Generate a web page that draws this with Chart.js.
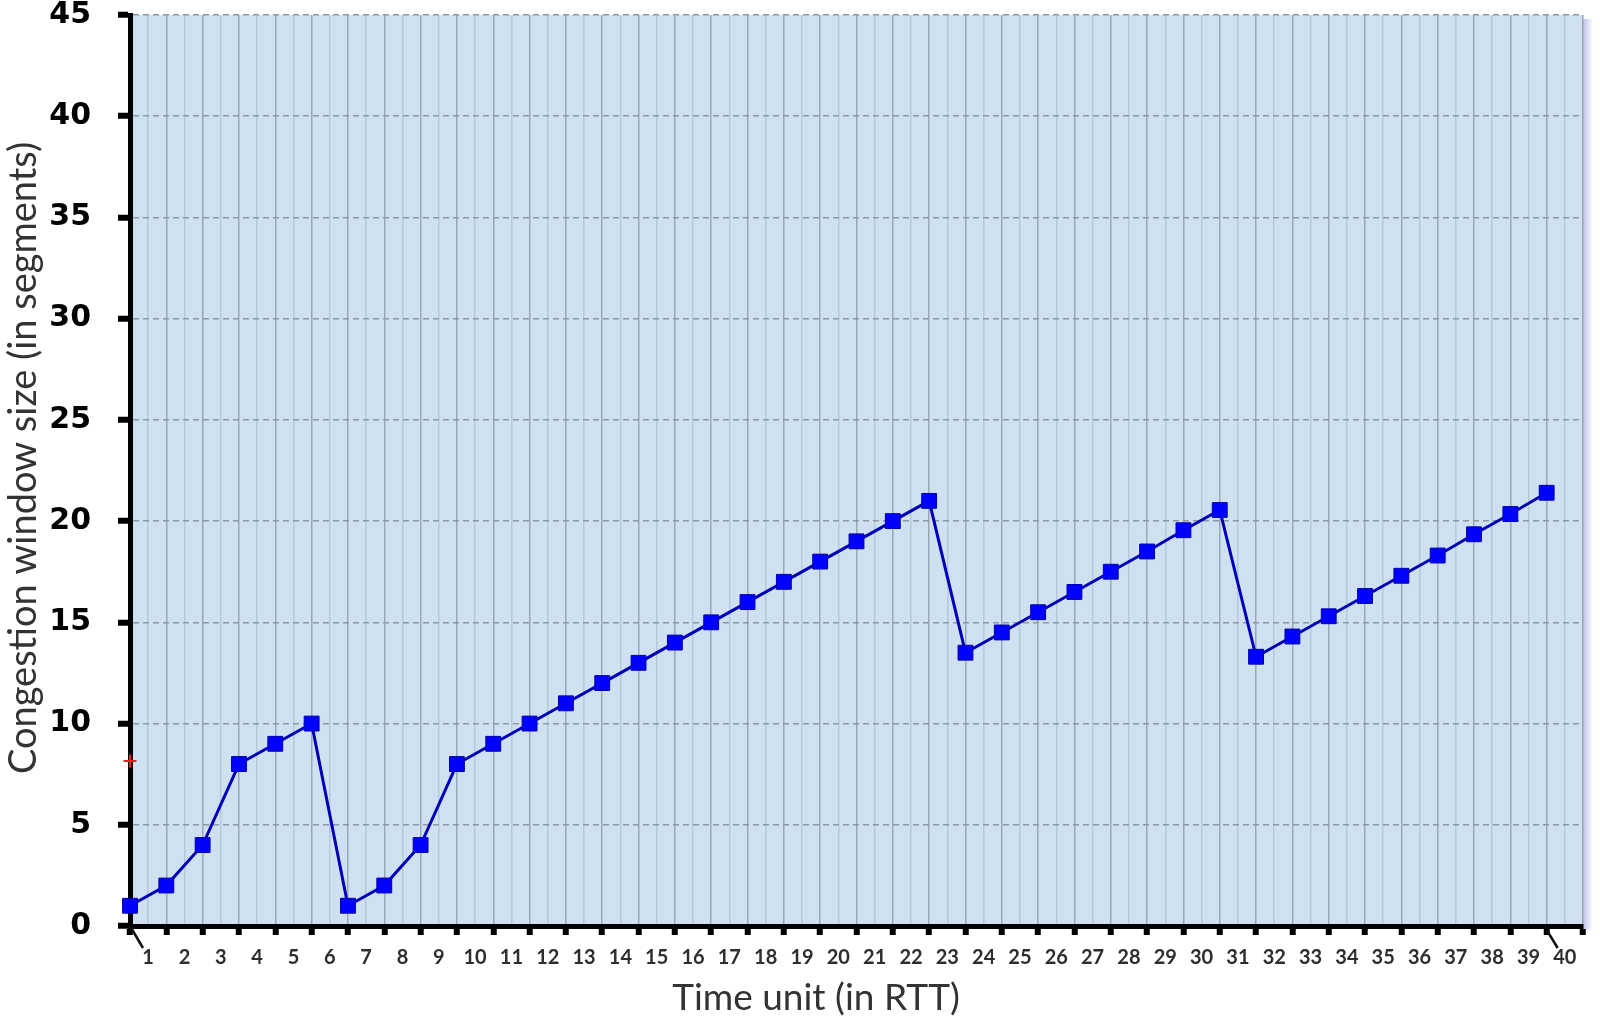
<!DOCTYPE html>
<html>
<head>
<meta charset="utf-8">
<script src="https://cdn.jsdelivr.net/npm/chart.js@4.4.1/dist/chart.umd.min.js"></script>
<style>
html,body{margin:0;padding:0;background:#ffffff;}
canvas{display:block;}
</style>
</head>
<body>
<canvas id="c" width="1600" height="1019"></canvas>
<script>
// ---- data ----
const timeUnits = [1,2,3,4,5,6,7,8,9,10,11,12,13,14,15,16,17,18,19,20,21,22,23,24,25,26,27,28,29,30,31,32,33,34,35,36,37,38,39,40];
const cwnd = [1,2,4,8,9,10,1,2,4,8,9,10,11,12,13,14,15,16,17,18,19,20,21,13.5,14.5,15.5,16.5,17.5,18.5,19.55,20.55,13.3,14.3,15.3,16.3,17.3,18.3,19.35,20.35,21.4];
const yTickValues = [0,5,10,15,20,25,30,35,40,45];
const redMarkX = [1];
const redMarkY = [8.15];
const xTitle = 'Time unit (in RTT)';
const yTitle = 'Congestion window size (in segments)';

const mainPoints = timeUnits.map((t, i) => ({x: t, y: cwnd[i]}));
const redPoints = redMarkX.map((x, i) => ({x: x, y: redMarkY[i]}));

const decor = {
  id: 'decor',
  beforeDraw(chart) {
    const {ctx, chartArea: a} = chart;
    ctx.save();
    ctx.fillStyle = '#cfe0f1';
    ctx.fillRect(a.left, a.top, a.right - a.left, a.bottom - a.top);
    const g = ctx.createLinearGradient(a.right, 0, a.right + 10, 0);
    g.addColorStop(0, 'rgba(140,140,215,0.55)');
    g.addColorStop(1, 'rgba(140,140,215,0)');
    ctx.fillStyle = g;
    ctx.fillRect(a.right, a.top + 4, 10, a.bottom - a.top);
    ctx.restore();
  },
  afterDraw(chart) {
    const {ctx, chartArea: a, scales} = chart;
    const xs = scales.x;
    ctx.save();
    // small slanted strokes at the axis ends
    ctx.strokeStyle = '#111';
    ctx.lineWidth = 2.5;
    const x1 = xs.getPixelForValue(timeUnits[0]);
    const x40 = xs.getPixelForValue(timeUnits[timeUnits.length - 1]);
    ctx.beginPath();
    ctx.moveTo(x1, a.bottom);
    ctx.lineTo(x1 + 13, a.bottom + 22);
    ctx.moveTo(x40, a.bottom + 4);
    ctx.lineTo(x40 + 11, a.bottom + 22);
    ctx.stroke();
    // axis titles
    ctx.fillStyle = '#333333';
    ctx.font = '37px Lato';
    ctx.textAlign = 'center';
    ctx.textBaseline = 'middle';
    ctx.fillText(xTitle, 816, 998);
    ctx.translate(24, 458);
    ctx.rotate(-Math.PI / 2);
    ctx.font = '38px Lato';
    ctx.fillText(yTitle, 0, 0);
    ctx.restore();
  }
};

new Chart(document.getElementById('c'), {
  type: 'line',
  data: {
    datasets: [
      {
        data: mainPoints,
        borderColor: '#0000b8',
        borderWidth: 3,
        backgroundColor: '#0000ff',
        pointStyle: 'rect',
        pointRadius: 10.5,
        pointBorderColor: '#0000a8',
        pointBorderWidth: 1,
        pointBackgroundColor: '#0000ff',
        tension: 0,
        clip: false,
        order: 2
      },
      {
        data: redPoints,
        showLine: false,
        pointStyle: 'cross',
        pointRadius: 6.5,
        pointBorderColor: '#ff1a1a',
        pointBorderWidth: 2,
        clip: false,
        order: 1
      }
    ]
  },
  options: {
    responsive: false,
    animation: false,
    devicePixelRatio: 1,
    layout: {padding: {left: 0, right: 17, top: 15, bottom: 0}},
    plugins: {legend: {display: false}, tooltip: {enabled: false}, title: {display: false}},
    scales: {
      x: {
        type: 'linear',
        min: 1,
        max: 41,
        afterFit(scale) { scale.height = 93; scale.paddingLeft = 0; scale.paddingRight = 0; },
        border: {display: true, color: '#000000', width: 5},
        grid: {
          display: true,
          drawOnChartArea: true,
          drawTicks: true,
          lineWidth: 1.5,
          color: (ctx) => {
            const k = Math.round(ctx.tick.value * 2);
            return (k % 2 === 0) ? '#9aa8b6' : '#b6c9dc';
          },
          tickLength: 9,
          tickWidth: 6,
          tickBorderDash: [],
          tickColor: (ctx) => {
            const k = Math.round(ctx.tick.value * 2);
            return (k % 2 === 0) ? '#000000' : 'rgba(0,0,0,0)';
          }
        },
        ticks: {
          stepSize: 0.5,
          maxTicksLimit: 200,
          autoSkip: false,
          maxRotation: 0,
          minRotation: 0,
          padding: 11,
          color: '#2e2e2e',
          font: {family: 'Lato', size: 20, weight: 'bold'},
          callback: (value) => {
            const k = Math.round(value * 2);
            if (k % 2 === 1) {
              const idx = (k - 1) / 2 - 1;
              return idx >= 0 && idx < timeUnits.length ? String(timeUnits[idx]) : '';
            }
            return '';
          }
        }
      },
      y: {
        type: 'linear',
        min: 0,
        max: 45,
        afterFit(scale) { scale.width = 130; scale.paddingTop = 0; scale.paddingBottom = 0; },
        afterBuildTicks(scale) { scale.ticks = yTickValues.map(v => ({value: v})); },
        border: {display: true, color: '#000000', width: 5, dash: [6, 4]},
        grid: {
          display: true,
          drawOnChartArea: true,
          drawTicks: true,
          lineWidth: 1.5,
          color: '#8e97a2',
          tickLength: 12,
          tickWidth: 6,
          tickBorderDash: [],
          tickColor: '#000000'
        },
        ticks: {
          padding: 27,
          color: '#000000',
          font: {family: 'DejaVu Sans', size: 30, weight: 'bold'}
        }
      }
    }
  },
  plugins: [decor]
});
</script>
</body>
</html>
